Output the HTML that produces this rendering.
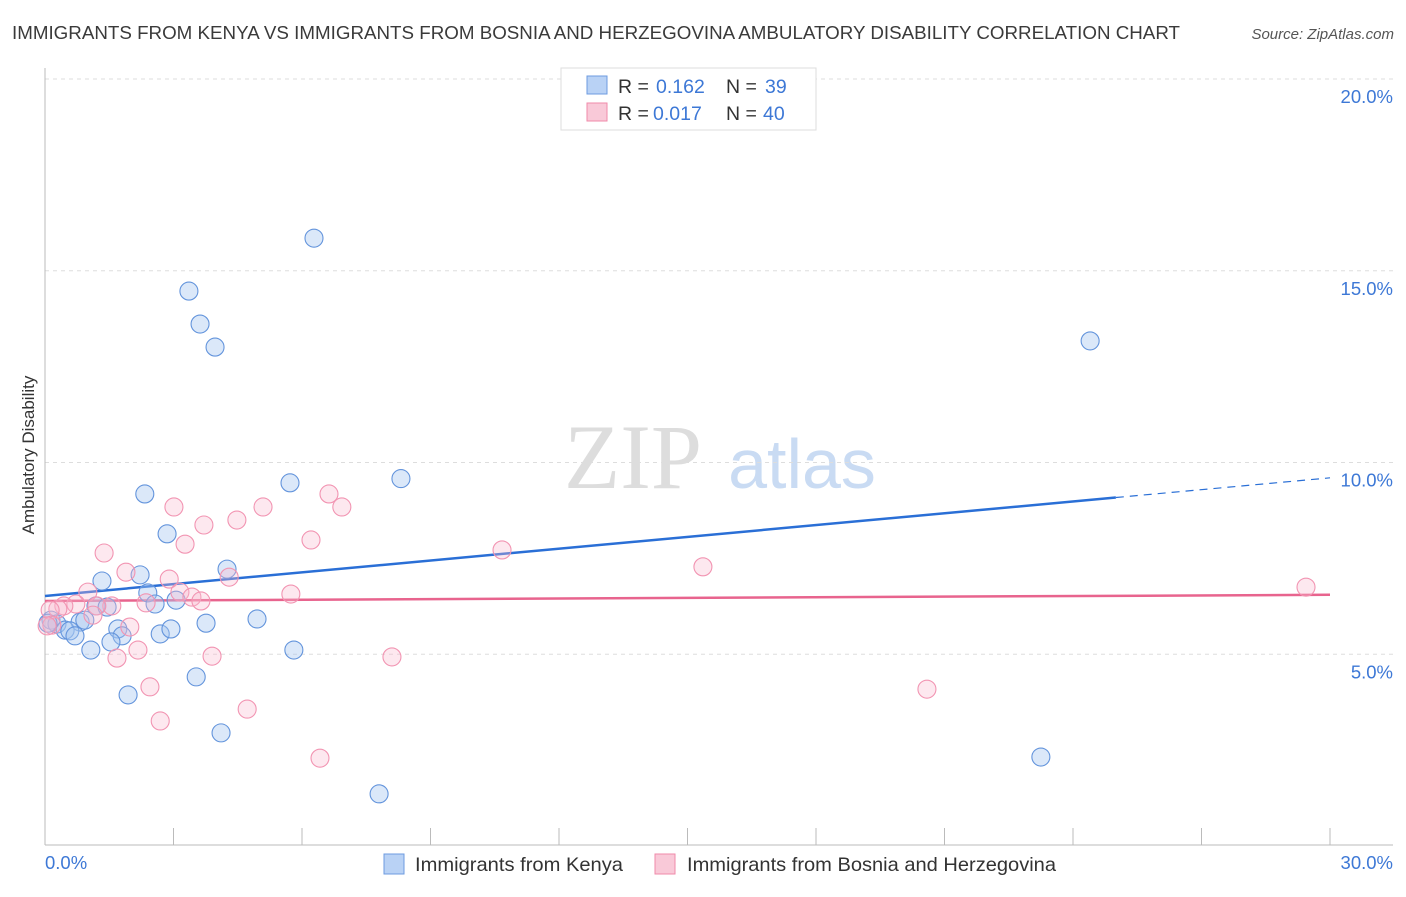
<!DOCTYPE html>
<html><head><meta charset="utf-8"><style>
body{margin:0;background:#fff;font-family:"Liberation Sans",sans-serif}
svg text{font-family:"Liberation Sans",sans-serif}
</style></head><body>
<svg id="chart" width="1406" height="892" viewBox="0 0 1406 892" xmlns="http://www.w3.org/2000/svg">
<text x="12" y="39" font-size="18" fill="#3a3a3a" textLength="1168" lengthAdjust="spacingAndGlyphs">IMMIGRANTS FROM KENYA VS IMMIGRANTS FROM BOSNIA AND HERZEGOVINA AMBULATORY DISABILITY CORRELATION CHART</text>
<text x="1394" y="39" font-size="15" fill="#555" font-style="italic" text-anchor="end">Source: ZipAtlas.com</text>
<g>
<text x="633" y="488" font-size="92" fill="#ddd" text-anchor="middle" style="font-family:'Liberation Serif',serif">ZIP</text>
<text x="802" y="488" font-size="70" fill="#c9dbf3" text-anchor="middle">atlas</text>
</g>
<g id="grid"></g>
<g id="axes"></g>
<g id="trends"></g>
<g id="points"></g>
<text transform="translate(34,455) rotate(-90)" font-size="17" fill="#333" text-anchor="middle">Ambulatory Disability</text>
<g>
<rect x="561" y="68" width="255" height="62" fill="#fff" stroke="#ddd"/>
<rect x="587" y="76" width="20" height="18" fill="#b9d2f5" stroke="#6d9be0"/>
<text x="618" y="93" font-size="19.5" fill="#333">R = </text><text x="656" y="93" font-size="19.5" fill="#3d78d6">0.162</text>
<text x="726" y="93" font-size="19.5" fill="#333">N = </text><text x="765" y="93" font-size="19.5" fill="#3d78d6">39</text>
<rect x="587" y="103" width="20" height="18" fill="#f9c9d8" stroke="#f08aaa"/>
<text x="618" y="120" font-size="19.5" fill="#333">R = </text><text x="653" y="120" font-size="19.5" fill="#3d78d6">0.017</text>
<text x="726" y="120" font-size="19.5" fill="#333">N = </text><text x="763" y="120" font-size="19.5" fill="#3d78d6">40</text>
</g>
<g>
<rect x="384" y="854" width="20" height="20" fill="#b9d2f5" stroke="#6d9be0"/>
<text x="415" y="871" font-size="19.5" fill="#333" textLength="208" lengthAdjust="spacingAndGlyphs">Immigrants from Kenya</text>
<rect x="655" y="854" width="20" height="20" fill="#f9c9d8" stroke="#f08aaa"/>
<text x="687" y="871" font-size="19.5" fill="#333" textLength="369" lengthAdjust="spacingAndGlyphs">Immigrants from Bosnia and Herzegovina</text>
</g>
</svg>
<script>
const yTicks=[5,10,15,20];
const yTickLabels=["5.0%","10.0%","15.0%","20.0%"];
const xLabels=["0.0%","30.0%"];
const kenyaX=[6.28,3.36,3.62,3.97,24.40,2.33,5.72,8.31,2.85,4.25,2.22,1.33,2.40,3.06,2.57,1.19,1.45,0.14,0.28,0.82,0.93,0.47,0.58,0.70,1.70,1.80,1.54,2.69,2.94,3.76,4.95,1.07,5.81,3.53,1.94,4.11,23.25,7.80,0.07];
const kenyaY=[15.85,14.47,13.61,13.01,13.17,9.18,9.47,9.58,8.14,7.22,7.07,6.91,6.60,6.41,6.31,6.26,6.23,5.89,5.79,5.84,5.89,5.63,5.61,5.48,5.66,5.48,5.32,5.53,5.66,5.81,5.92,5.11,5.11,4.41,3.94,2.95,2.32,1.36,5.81];
const bosniaX=[3.01,5.09,6.63,6.93,4.48,3.71,3.27,6.21,10.67,1.38,1.89,2.90,4.30,15.36,29.44,1.00,3.15,5.74,2.36,3.43,3.64,1.56,1.21,0.72,0.44,0.30,0.12,0.16,1.12,1.98,2.17,1.68,3.90,8.10,2.45,20.59,4.72,2.69,6.42,0.05];
const bosniaY=[8.84,8.84,9.18,8.84,8.50,8.37,7.87,7.98,7.72,7.64,7.14,6.96,7.01,7.28,6.75,6.62,6.62,6.57,6.34,6.49,6.39,6.26,6.26,6.31,6.26,6.18,6.15,5.76,6.02,5.71,5.11,4.90,4.95,4.93,4.15,4.09,3.57,3.26,2.29,5.74];
const kenyaTrend=[6.52,9.60];
const bosniaTrend=[6.39,6.55];
const NS="http://www.w3.org/2000/svg";
const X0=45,X1=1330,Y0=846,PXPCT=38.35;
function sx(v){return X0+v/30*(X1-X0);}
function sy(v){return Y0-v*PXPCT;}
function mk(tag,attrs,parent){const e=document.createElementNS(NS,tag);for(const k in attrs)e.setAttribute(k,attrs[k]);parent.appendChild(e);return e;}
const grid=document.getElementById('grid'),axes=document.getElementById('axes');
yTicks.forEach((t,i)=>{
  const l=mk('line',{x1:45,x2:1393,y1:sy(t),y2:sy(t),stroke:'#ddd','stroke-dasharray':'4,4'},grid);
  
  
  const tx=mk('text',{x:1393,y:sy(t)+24,'font-size':18.5,fill:'#3d78d6','text-anchor':'end'},axes);
  tx.textContent=yTickLabels[i];
  
  
});
let a=mk('line',{x1:45,x2:45,y1:68,y2:845,stroke:'#bbb'},axes);


a=mk('line',{x1:45,x2:1393,y1:845,y2:845,stroke:'#bbb'},axes);


for(let i=0;i<=10;i++){
  const t=mk('line',{x1:sx(i*3),x2:sx(i*3),y1:828,y2:845,stroke:'#bbb'},axes);
  
  
}
let xl=mk('text',{x:45,y:869,'font-size':18.5,fill:'#3d78d6'},axes);xl.textContent=xLabels[0];


xl=mk('text',{x:1393,y:869,'font-size':18.5,fill:'#3d78d6','text-anchor':'end'},axes);xl.textContent=xLabels[1];


const pts=document.getElementById('points');
kenyaX.forEach((x,i)=>{
  const c=mk('circle',{cx:sx(x),cy:sy(kenyaY[i]),r:9,fill:'rgba(165,198,240,0.4)',stroke:'#6394dc','stroke-width':1.1},pts);
  
  
});
bosniaX.forEach((x,i)=>{
  const c=mk('circle',{cx:sx(x),cy:sy(bosniaY[i]),r:9,fill:'rgba(248,185,205,0.33)',stroke:'#f294b2','stroke-width':1.1},pts);
  
  
});
const tr=document.getElementById('trends');
const kAt=v=>kenyaTrend[0]+(kenyaTrend[1]-kenyaTrend[0])*v/30;
let ln=mk('line',{x1:sx(0),y1:sy(kAt(0)),x2:sx(25),y2:sy(kAt(25)),stroke:'#2a6fd6','stroke-width':2.5},tr);


ln=mk('line',{x1:sx(25),y1:sy(kAt(25)),x2:sx(30),y2:sy(kAt(30)),stroke:'#2a6fd6','stroke-width':1.2,'stroke-dasharray':'8,6'},tr);


ln=mk('line',{x1:sx(0),y1:sy(bosniaTrend[0]),x2:sx(30),y2:sy(bosniaTrend[1]),stroke:'#e8648e','stroke-width':2.5},tr);


</script>
</body></html>
